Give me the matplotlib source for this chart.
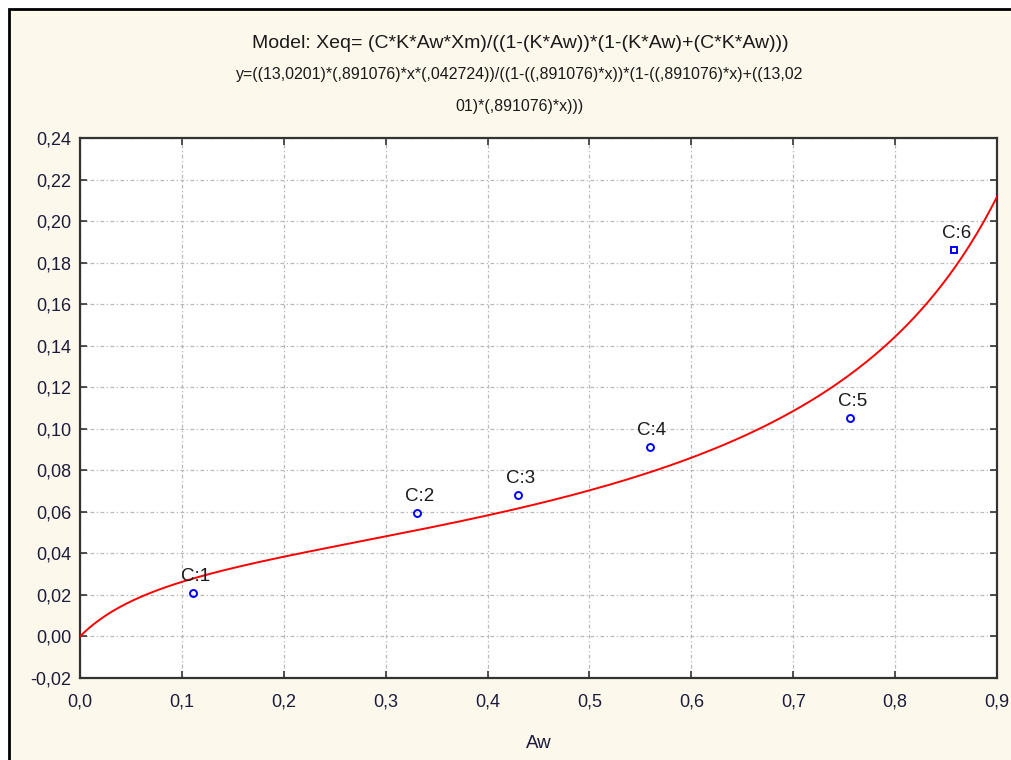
import numpy as np
import matplotlib
matplotlib.use("Agg")
import matplotlib.pyplot as plt
from matplotlib.patches import Rectangle

# GAB model parameters (from the fitted equation shown in the chart)
C_gab = 13.0201
K_gab = 0.891076
Xm_gab = 0.042724

# Observed points
aw = [0.111, 0.331, 0.430, 0.559, 0.756, 0.858]
xeq = [0.0207, 0.0593, 0.068, 0.091, 0.105, 0.186]
point_labels = ["C:1", "C:2", "C:3", "C:4", "C:5", "C:6"]
point_markers = ["o", "o", "o", "o", "o", "s"]

x_ticks = [0.0, 0.1, 0.2, 0.3, 0.4, 0.5, 0.6, 0.7, 0.8, 0.9]
x_ticklabels = ["0,0", "0,1", "0,2", "0,3", "0,4", "0,5", "0,6", "0,7", "0,8", "0,9"]
y_ticks = [-0.02, 0.0, 0.02, 0.04, 0.06, 0.08, 0.10, 0.12, 0.14, 0.16, 0.18, 0.20, 0.22, 0.24]
y_ticklabels = ["-0,02", "0,00", "0,02", "0,04", "0,06", "0,08", "0,10", "0,12",
                "0,14", "0,16", "0,18", "0,20", "0,22", "0,24"]

title_lines = [
    "Model: Xeq= (C*K*Aw*Xm)/((1-(K*Aw))*(1-(K*Aw)+(C*K*Aw)))",
    "y=((13,0201)*(,891076)*x*(,042724))/((1-((,891076)*x))*(1-((,891076)*x)+((13,02",
    "01)*(,891076)*x)))",
]
title_sizes = [14, 11.5, 11.5]


def gab(x):
    kx = K_gab * x
    return C_gab * kx * Xm_gab / ((1 - kx) * (1 - kx + C_gab * kx))


plt.rcParams["font.family"] = ["Liberation Sans", "DejaVu Sans"]

W, H = 1011, 760
fig = plt.figure(figsize=(W / 100, H / 100), dpi=100, facecolor="white")

# cream panel with black frame (cut at right/bottom)
panel = Rectangle((9 / W, -0.05), 1.1, (H - 9) / H + 0.05, transform=fig.transFigure,
                  facecolor="#fdf8ec", edgecolor="black", linewidth=2, zorder=-5)
fig.patches.append(panel)

ax = fig.add_axes([80 / W, (H - 678) / H, 917 / W, 540 / H])
ax.set_zorder(2)
ax.set_facecolor("white")

# fitted curve
xs = np.linspace(0, 0.9, 400)
ax.plot(xs, gab(xs), color="#ff0000", linewidth=1.4, zorder=3)

# observed points + labels
for xv, yv, lab, mk in zip(aw, xeq, point_labels, point_markers):
    ax.plot(xv, yv, marker=mk, markersize=5, markerfacecolor="none",
            markeredgecolor="#0000ff", markeredgewidth=1.4, linestyle="none", zorder=4)
    ax.annotate(lab, (xv, yv), xytext=(2, 8), textcoords="offset pixels",
                ha="center", va="bottom", fontsize=13.5, color="#1a1a1a", zorder=5)

ax.set_xlim(0, 0.9)
ax.set_ylim(-0.02, 0.24)
ax.set_xticks(x_ticks)
ax.set_xticklabels(x_ticklabels)
ax.set_yticks(y_ticks)
ax.set_yticklabels(y_ticklabels)
ax.tick_params(direction="in", length=5, width=1.2, labelsize=13,
               labelcolor="#1c1c3a", color="#333333",
               top=True, right=True, pad=6)
ax.tick_params(axis="x", pad=11)

ax.grid(True, color="#b8b8b8", linestyle=(0, (3, 2, 1, 2)), linewidth=0.9)
ax.set_axisbelow(True)
for sp in ax.spines.values():
    sp.set_color("#333333")
    sp.set_linewidth(1.6)

ax.set_xlabel("Aw", fontsize=13.5, color="#1c1c3a", labelpad=18)

# model text above the plot
for i, line in enumerate(title_lines):
    fig.text(520 / W, 1 - (44 + 31 * i) / H, line, ha="center", va="center",
             fontsize=title_sizes[i], color="#1a1a1a")

fig.savefig("out.png", dpi=100, facecolor="white")
